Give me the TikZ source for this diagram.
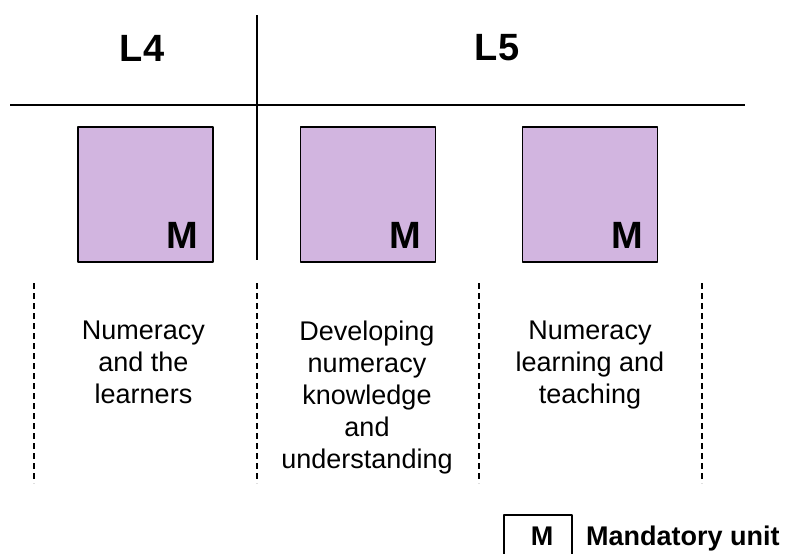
\documentclass[tikz,border=0pt]{standalone}
\usepackage{fontspec}
\setmainfont{Liberation Sans}
\definecolor{lilac}{RGB}{210,181,224}
\begin{document}
\begin{tikzpicture}[x=1pt, y=-1pt, line join=round,
		unitbox/.style={draw=black, line width=1.2pt, fill=lilac, minimum size=135pt, inner sep=0pt},
		mlabel/.style={font=\fontsize{38}{38}\selectfont\bfseries, anchor=base east, inner sep=0pt},
		levellabel/.style={font=\fontsize{38}{38}\selectfont\bfseries, inner sep=0pt},
		unittext/.style={font=\fontsize{27}{32}\selectfont, align=center, anchor=north, inner sep=0pt},
		keytext/.style={font=\fontsize{27}{27}\selectfont\bfseries, inner sep=0pt},
		divider/.style={dash pattern=on 6pt off 4pt, line width=1.1pt}]
			\useasboundingbox (0,0) rectangle (785,554);
			% level headings
			\node[levellabel] (lfour) at (142,48) {L4};
			\node[levellabel] (lfive) at (497,48) {L5};
			\draw[line width=1.4pt] (10,105)--(745,105);
			\draw[line width=1.4pt] (257,15)--(257,260);
			% units
			\node[unitbox] (unitA) at (145.5,194.5) {};
			\node[unitbox] (unitB) at (368,194.5) {};
			\node[unitbox] (unitC) at (590,194.5) {};
			\node[mlabel] (mA) at ([xshift=-15pt,yshift=14pt]unitA.south east) {M};
			\node[mlabel] (mB) at ([xshift=-15pt,yshift=14pt]unitB.south east) {M};
			\node[mlabel] (mC) at ([xshift=-15pt,yshift=14pt]unitC.south east) {M};
			% columns
			\draw[divider] (34,283)--(34,483);
			\draw[divider] (257,283)--(257,483);
			\draw[divider] (479,283)--(479,483);
			\draw[divider] (702,283)--(702,483);
			\node[unittext] (textA) at (143.5,321) {Numeracy\\and the\\learners};
			\node[unittext] (textB) at (367,321) {Developing\\numeracy\\knowledge\\and\\understanding};
			\node[unittext] (textC) at (590,321) {Numeracy\\learning and\\teaching};
			% key
			\draw[line width=1.2pt] (504,554)--(504,515)--(572,515)--(572,554);
			\node[keytext, anchor=base] (keyM) at (542,545) {M};
			\node[keytext, anchor=base west] (keyunit) at (586,545) {Mandatory unit};
		\end{tikzpicture}
\end{document}
